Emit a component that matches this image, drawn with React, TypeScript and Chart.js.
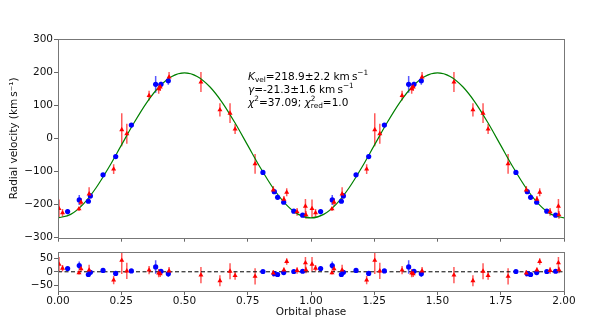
import React, { useEffect, useRef } from 'react';
import { Chart, registerables } from 'chart.js';
Chart.register(...registerables);

const FONT = "'DejaVu Sans', sans-serif";
const FS = 10.5;

// Orbital phase tick labels
const xTicks = [0, 0.25, 0.5, 0.75, 1.0, 1.25, 1.5, 1.75, 2.0];
const topYTicks = [-300, -200, -100, 0, 100, 200, 300];
const botYTicks = [-50, 0, 50];

// Red triangles (phase in [0,1], folded twice)
const redPhase = [0.004, 0.018, 0.083, 0.091, 0.123, 0.22, 0.252, 0.272, 0.36, 0.398, 0.404, 0.439, 0.565, 0.64, 0.68, 0.70, 0.779, 0.851, 0.893, 0.904, 0.945, 0.978, 0.98];
const redVel = [-212, -225, -213, -193, -168, -93, 26, 14, 129, 150, 155, 185, 170, 86, 76, 28, -77, -156, -184, -163, -222, -205, -231];
const redErr = [27, 12, 6, 12, 20, 15, 50, 30, 15, 15, 12, 15, 30, 20, 30, 15, 30, 12, 10, 12, 12, 22, 12];
const redRes = [28, 13, -4, 11, 6, -31, 42, 3, 6, -5, -7, 3, -12, -33, 2, -14, -17, -5, 6, 38, 5, 33, 7];

// Blue circles
const bluePhase = [0.038, 0.084, 0.12, 0.128, 0.178, 0.228, 0.29, 0.386, 0.407, 0.436, 0.81, 0.855, 0.868, 0.892, 0.932, 0.967];
const blueVel = [-221, -186, -190, -174, -110, -55, 40, 163, 163, 174, -103, -161, -178, -193, -220, -232];
const blueErr = [8, 15, 5, 8, 4, 4, 5, 25, 8, 12, 3, 5, 4, 4, 3, 4];
const blueRes = [12, 23, -10, -2, 5, -6, 3, 18, 2, -7, 1, -7, -10, -3, 1, 2];

// Green model curve
const modelPhase = [0, 0.05, 0.1, 0.15, 0.2, 0.25, 0.3, 0.35, 0.4, 0.45, 0.5, 0.55, 0.6, 0.65, 0.7, 0.75, 0.8, 0.85, 0.9, 0.95, 1.0];
const modelVel = [-240.2, -229.5, -198.4, -150.0, -88.9, -21.3, 46.3, 107.4, 155.8, 186.9, 197.6, 186.9, 155.8, 107.4, 46.3, -21.3, -88.9, -150.0, -198.4, -229.5, -240.2];

const fold = (ph: number[], v: number[]) => {
  const out: { x: number; y: number }[] = [];
  for (let k = 0; k < 2; k++) ph.forEach((p, i) => out.push({ x: p + k, y: v[i] }));
  return out;
};
const foldErr = (e: number[]) => [...e, ...e];
const modelPts = (() => {
  const out: { x: number; y: number }[] = [];
  for (let k = 0; k < 2; k++)
    modelPhase.forEach((p, i) => {
      if (k === 1 && i === 0) return;
      out.push({ x: p + k, y: modelVel[i] });
    });
  return out;
})();

const fmt = (v: number) => (v < 0 ? '\u2212' + Math.abs(v) : String(v));

const errorBarPlugin = {
  id: 'errbars',
  beforeDatasetsDraw(chart: any) {
    const { ctx, chartArea, scales } = chart;
    ctx.save();
    ctx.beginPath();
    ctx.rect(chartArea.left, chartArea.top, chartArea.right - chartArea.left, chartArea.bottom - chartArea.top);
    ctx.clip();
    chart.data.datasets.forEach((ds: any) => {
      if (!ds.errors) return;
      ctx.strokeStyle = ds.errColor;
      ctx.lineWidth = 1.5;
      ds.data.forEach((p: any, i: number) => {
        const x = scales.x.getPixelForValue(p.x);
        const y1 = scales.y.getPixelForValue(p.y - ds.errors[i]);
        const y2 = scales.y.getPixelForValue(p.y + ds.errors[i]);
        ctx.beginPath();
        ctx.moveTo(x, y1);
        ctx.lineTo(x, y2);
        ctx.stroke();
      });
    });
    ctx.restore();
  },
};

const framePlugin = {
  id: 'frame',
  afterDatasetsDraw(chart: any) {
    const { ctx, chartArea } = chart;
    ctx.save();
    ctx.strokeStyle = '#777';
    ctx.lineWidth = 1;
    ctx.strokeRect(
      Math.round(chartArea.left) + 0.5,
      Math.round(chartArea.top) + 0.5,
      Math.round(chartArea.right - chartArea.left),
      Math.round(chartArea.bottom - chartArea.top)
    );
    ctx.restore();
  },
};

type Seg = { t?: string; it?: boolean; sup?: string; sub?: string };
const annLines: Seg[][] = [
  [{ t: 'K', it: true }, { sub: 'vel' }, { t: '=218.9\u00b12.2 km\u2009s' }, { sup: '\u22121' }],
  [{ t: '\u03b3', it: true }, { t: '=-21.3\u00b11.6 km\u2009s' }, { sup: '\u22121' }],
  [{ t: '\u03c7', it: true }, { sup: '2' }, { t: '=37.09; ' }, { t: '\u03c7', it: true }, { sup: '2', sub: 'red' }, { t: '=1.0' }],
];

const annotationPlugin = {
  id: 'annot',
  afterDraw(chart: any) {
    const { ctx } = chart;
    ctx.save();
    ctx.fillStyle = '#000';
    ctx.textBaseline = 'middle';
    ctx.textAlign = 'left';
    const x0 = 248;
    const ys = [77, 90, 103];
    const small = FS * 0.7;
    annLines.forEach((segs, li) => {
      let x = x0;
      const y = ys[li];
      segs.forEach((s) => {
        if (s.t !== undefined) {
          ctx.font = `${s.it ? 'italic ' : ''}${FS}px ${FONT}`;
          ctx.fillText(s.t, x, y);
          x += ctx.measureText(s.t).width;
        } else {
          ctx.font = `${small}px ${FONT}`;
          let w = 0;
          if (s.sup) {
            ctx.fillText(s.sup, x, y - 3.5);
            w = Math.max(w, ctx.measureText(s.sup).width);
          }
          if (s.sub) {
            ctx.fillText(s.sub, x, y + 3);
            w = Math.max(w, ctx.measureText(s.sub).width);
          }
          x += w;
        }
      });
    });
    ctx.restore();
  },
};

const tickFont = { family: FONT, size: FS };
const gridOpts = { display: true, drawOnChartArea: false, drawTicks: true, tickLength: 4, color: '#666' };

export default function App() {
  const topRef = useRef<HTMLCanvasElement>(null);
  const botRef = useRef<HTMLCanvasElement>(null);

  useEffect(() => {
    document.body.style.margin = '0';
    const top = new Chart(topRef.current as HTMLCanvasElement, {
      type: 'scatter',
      data: {
        datasets: [
          {
            type: 'line',
            label: 'model',
            data: modelPts,
            borderColor: '#008000',
            borderWidth: 1.2,
            pointRadius: 0,
            cubicInterpolationMode: 'monotone',
            fill: false,
            order: 3,
          } as any,
          {
            label: 'red',
            data: fold(redPhase, redVel),
            pointStyle: 'triangle',
            pointRadius: 2.9,
            backgroundColor: '#ff0000',
            borderColor: '#ff0000',
            borderWidth: 0,
            errors: foldErr(redErr),
            errColor: 'rgba(255,0,0,0.65)',
            order: 1,
          } as any,
          {
            label: 'blue',
            data: fold(bluePhase, blueVel),
            pointStyle: 'circle',
            pointRadius: 2.6,
            backgroundColor: '#0000ff',
            borderColor: '#0000ff',
            borderWidth: 0,
            errors: foldErr(blueErr),
            errColor: 'rgba(0,0,255,0.65)',
            order: 2,
          } as any,
        ],
      },
      options: {
        responsive: false,
        animation: false,
        devicePixelRatio: 1,
        events: [],
        layout: { padding: { top: 39, right: 34, left: 0, bottom: 0 } },
        plugins: { legend: { display: false }, tooltip: { enabled: false } },
        scales: {
          x: {
            type: 'linear',
            min: 0,
            max: 2,
            afterBuildTicks: (s: any) => {
              s.ticks = xTicks.map((v) => ({ value: v }));
            },
            ticks: { display: false },
            grid: gridOpts,
            border: { display: false },
            afterFit: (s: any) => {
              s.height = 7;
            },
          },
          y: {
            type: 'linear',
            min: -300,
            max: 300,
            afterBuildTicks: (s: any) => {
              s.ticks = topYTicks.map((v) => ({ value: v }));
            },
            ticks: { font: tickFont, color: '#111', padding: 1, callback: (v: any) => fmt(Number(v)) },
            grid: gridOpts,
            border: { display: false },
            title: {
              display: true,
              text: 'Radial velocity (km\u2009s\u207b\u00b9)',
              font: tickFont,
              color: '#111',
              padding: { top: 8, bottom: 0 },
            },
            afterFit: (s: any) => {
              s.width = 58;
            },
          },
        },
      } as any,
      plugins: [errorBarPlugin, framePlugin, annotationPlugin],
    });

    const bot = new Chart(botRef.current as HTMLCanvasElement, {
      type: 'scatter',
      data: {
        datasets: [
          {
            type: 'line',
            label: 'zero',
            data: [
              { x: 0, y: 0 },
              { x: 2, y: 0 },
            ],
            borderColor: '#000',
            borderWidth: 1,
            borderDash: [4, 2.5],
            pointRadius: 0,
            fill: false,
            order: 3,
          } as any,
          {
            label: 'red',
            data: fold(redPhase, redRes),
            pointStyle: 'triangle',
            pointRadius: 2.9,
            backgroundColor: '#ff0000',
            borderColor: '#ff0000',
            borderWidth: 0,
            errors: foldErr(redErr),
            errColor: 'rgba(255,0,0,0.65)',
            order: 1,
          } as any,
          {
            label: 'blue',
            data: fold(bluePhase, blueRes),
            pointStyle: 'circle',
            pointRadius: 2.6,
            backgroundColor: '#0000ff',
            borderColor: '#0000ff',
            borderWidth: 0,
            errors: foldErr(blueErr),
            errColor: 'rgba(0,0,255,0.65)',
            order: 2,
          } as any,
        ],
      },
      options: {
        responsive: false,
        animation: false,
        devicePixelRatio: 1,
        events: [],
        layout: { padding: { top: 5, right: 34, left: 0, bottom: 0 } },
        plugins: { legend: { display: false }, tooltip: { enabled: false } },
        scales: {
          x: {
            type: 'linear',
            min: 0,
            max: 2,
            afterBuildTicks: (s: any) => {
              s.ticks = xTicks.map((v) => ({ value: v }));
            },
            ticks: {
              font: tickFont,
              color: '#111',
              padding: 0,
              maxRotation: 0,
              autoSkip: false,
              callback: (v: any) => Number(v).toFixed(2),
            },
            grid: gridOpts,
            border: { display: false },
            title: {
              display: true,
              text: 'Orbital phase',
              font: tickFont,
              color: '#111',
              padding: { top: 0, bottom: 8 },
            },
            afterFit: (s: any) => {
              s.height = 36;
            },
          },
          y: {
            type: 'linear',
            min: -71,
            max: 72,
            afterBuildTicks: (s: any) => {
              s.ticks = botYTicks.map((v) => ({ value: v }));
            },
            ticks: { font: tickFont, color: '#111', padding: 1, callback: (v: any) => fmt(Number(v)) },
            grid: gridOpts,
            border: { display: false },
            afterFit: (s: any) => {
              s.width = 58;
            },
          },
        },
      } as any,
      plugins: [errorBarPlugin, framePlugin],
    });

    return () => {
      top.destroy();
      bot.destroy();
    };
  }, []);

  return (
    <div style={{ position: 'absolute', left: 0, top: 0, width: 598, height: 327 }}>
      <canvas ref={topRef} width={598} height={245} style={{ position: 'absolute', left: 0, top: 0 }} />
      <canvas ref={botRef} width={598} height={82} style={{ position: 'absolute', left: 0, top: 245 }} />
    </div>
  );
}
